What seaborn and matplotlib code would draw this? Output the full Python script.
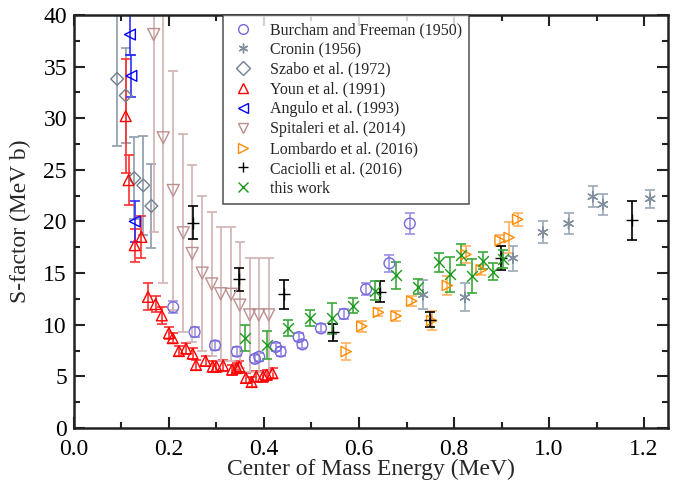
import numpy as np
import pandas as pd
import matplotlib
matplotlib.use("Agg")
import matplotlib.pyplot as plt
import seaborn as sns
from matplotlib.lines import Line2D
from matplotlib.ticker import MultipleLocator

# data (E in MeV, S in MeV b)
burcham_e = [0.209, 0.254, 0.297, 0.343, 0.381, 0.390, 0.425, 0.435, 0.473, 0.481,
             0.520, 0.568, 0.615, 0.664, 0.707]
burcham_s = [11.7, 9.3, 8.0, 7.4, 6.7, 6.9, 7.85, 7.4, 8.8, 8.1, 9.65, 11.05, 13.45, 15.95, 19.8]
burcham_err = [0.6, 0.5, 0.4, 0.4, 0.4, 0.4, 0.4, 0.4, 0.4, 0.4, 0.4, 0.5, 0.6, 0.8, 1.0]

cronin_e = [0.735, 0.823, 0.924, 0.987, 1.041, 1.092, 1.113, 1.213]
cronin_s = [12.9, 12.65, 16.45, 18.95, 19.8, 22.4, 21.65, 22.2]
cronin_err = [1.4, 1.35, 1.2, 1.05, 1.0, 1.0, 1.0, 0.85]

szabo_e = [0.091, 0.109, 0.127, 0.146, 0.163]
szabo_s = [33.8, 32.2, 24.2, 23.5, 21.5]
szabo_err = [6.5, 4.6, 4.0, 4.8, 4.1]

youn_e = [0.109, 0.115, 0.128, 0.142, 0.156, 0.172, 0.185, 0.200, 0.208, 0.221, 0.236,
          0.250, 0.257, 0.277, 0.292, 0.300, 0.314, 0.333, 0.343, 0.348, 0.362, 0.374,
          0.384, 0.398, 0.406, 0.418]
youn_s = [30.2, 24.0, 17.7, 18.5, 12.7, 12.0, 10.9, 9.2, 8.7, 7.45, 7.7, 7.2, 6.1, 6.5,
          5.95, 5.95, 6.05, 5.65, 5.8, 5.95, 4.85, 4.45, 5.0, 5.0, 5.15, 5.3]
youn_err = [5.5, 2.4, 1.6, 2.0, 1.3, 0.8, 0.8, 0.6, 0.5, 0.5, 0.5, 0.5, 0.5, 0.5, 0.5,
            0.5, 0.5, 0.5, 0.5, 0.5, 0.5, 0.5, 0.5, 0.5, 0.5, 0.5]

angulo_e = [0.118, 0.121, 0.128]
angulo_s = [38.1, 34.1, 20.0]
angulo_err = [2.0, 2.0, 2.0]

spitaleri_e = [0.168, 0.188, 0.209, 0.230, 0.249, 0.270, 0.290, 0.309, 0.331, 0.349,
               0.370, 0.389, 0.410]
spitaleri_s = [38.1, 28.1, 23.0, 18.9, 16.9, 15.0, 13.95, 13.0, 12.95, 11.9, 10.95, 10.95, 10.95]
spitaleri_err = [19.1, 14.1, 11.6, 9.6, 8.6, 7.5, 7.0, 6.5, 6.5, 6.1, 5.5, 5.5, 5.5]

lombardo_e = [0.573, 0.606, 0.641, 0.678, 0.711, 0.753, 0.786, 0.825, 0.857, 0.897, 0.916, 0.934]
lombardo_s = [7.4, 9.85, 11.2, 10.85, 12.3, 10.4, 13.8, 16.8, 15.3, 18.15, 18.45, 20.2]
lombardo_err = [0.8, 0.55, 0.4, 0.5, 0.5, 0.9, 0.9, 0.85, 0.5, 0.55, 1.5, 0.6]

caciolli_e = [0.250, 0.347, 0.443, 0.546, 0.644, 0.749, 0.898, 1.175]
caciolli_s = [19.9, 14.4, 12.95, 9.25, 13.2, 10.5, 16.45, 20.1]
caciolli_err = [1.6, 1.1, 1.4, 0.8, 1.0, 0.75, 1.15, 1.85]

thiswork_e = [0.361, 0.406, 0.451, 0.497, 0.543, 0.588, 0.634, 0.678, 0.725, 0.769,
              0.792, 0.815, 0.837, 0.860, 0.883, 0.904]
thiswork_s = [8.7, 8.05, 9.7, 10.65, 10.65, 11.85, 13.3, 14.8, 13.7, 16.05, 14.9, 16.8,
              14.7, 16.2, 15.15, 16.35]
thiswork_err = [1.25, 1.35, 0.75, 0.78, 1.5, 0.75, 0.9, 1.3, 0.7, 0.9, 1.7, 1.05, 1.65,
                0.85, 0.8, 0.85]

datasets = {
    "Burcham and Freeman (1950)": (burcham_e, burcham_s, burcham_err),
    "Cronin (1956)": (cronin_e, cronin_s, cronin_err),
    "Szabo et al. (1972)": (szabo_e, szabo_s, szabo_err),
    "Youn et al. (1991)": (youn_e, youn_s, youn_err),
    "Angulo et al. (1993)": (angulo_e, angulo_s, angulo_err),
    "Spitaleri et al. (2014)": (spitaleri_e, spitaleri_s, spitaleri_err),
    "Lombardo et al. (2016)": (lombardo_e, lombardo_s, lombardo_err),
    "Caciolli et al. (2016)": (caciolli_e, caciolli_s, caciolli_err),
    "this work": (thiswork_e, thiswork_s, thiswork_err),
}

# marker, marker colour, error bar colour, marker area
styles = {
    "Burcham and Freeman (1950)": ("o", "#7468dc", "#9a90e6", 60),
    "Cronin (1956)": ((6, 2, 0), "#7f8fa0", "#9aa8b8", 55),
    "Szabo et al. (1972)": ("D", "#708090", "#8e9cab", 42),
    "Youn et al. (1991)": ("^", "#ff0000", "#ff3030", 60),
    "Angulo et al. (1993)": ("<", "#0000ff", "#3030ff", 60),
    "Spitaleri et al. (2014)": ("v", "#bc8f8f", "#d2b2b2", 75),
    "Lombardo et al. (2016)": (">", "#ff8c00", "#ffb060", 55),
    "Caciolli et al. (2016)": ("+", "#000000", "#000000", 80),
    "this work": ("x", "#1a9a1a", "#3aaa3a", 60),
}

sns.set_theme(style="ticks")
plt.rcParams["font.family"] = ["Liberation Serif", "DejaVu Serif"]

fig, ax = plt.subplots(figsize=(6.78, 4.82), dpi=100)
fig.subplots_adjust(left=0.109, right=0.985, bottom=0.112, top=0.969)

handles = []
for name, (e, s, err) in datasets.items():
    marker, mcol, ecol, size = styles[name]
    df = pd.DataFrame({"E": e, "S": s, "err": err})
    ax.errorbar(df["E"], df["S"], yerr=df["err"], fmt="none", ecolor=ecol,
                elinewidth=1.2, capsize=3.5, capthick=1.2, zorder=2)
    sns.scatterplot(data=df, x="E", y="S", marker=marker, s=size, ax=ax,
                    color=mcol, linewidth=1.0, zorder=3, legend=False)
    pts = ax.collections[-1]
    if marker not in ("+", "x"):
        pts.set_facecolor("none")
    pts.set_edgecolor(mcol)
    pts.set_linewidth(1.0)
    handles.append(Line2D([], [], linestyle="none", marker=marker, markersize=7,
                          markerfacecolor="none", markeredgecolor=mcol,
                          markeredgewidth=1.0, label=name))

ax.set_xlim(0, 1.25)
ax.set_ylim(0, 40)
ax.xaxis.set_major_locator(MultipleLocator(0.2))
ax.xaxis.set_minor_locator(MultipleLocator(0.1))
ax.yaxis.set_major_locator(MultipleLocator(5))
ax.yaxis.set_minor_locator(MultipleLocator(2.5))
ax.xaxis.set_major_formatter(plt.FuncFormatter(lambda v, p: f"{v:.1f}"))
ax.tick_params(which="both", direction="in", top=True, right=True, colors="#222222",
               labelsize=17, width=1.5, labelcolor="black")
ax.tick_params(which="major", length=8)
ax.tick_params(which="minor", length=4)
ax.tick_params(axis="x", which="major", pad=8)
ax.tick_params(axis="y", which="major", pad=5)
for sp in ax.spines.values():
    sp.set_visible(True)
    sp.set_linewidth(1.8)
    sp.set_color("#222222")

ax.set_xlabel("Center of Mass Energy (MeV)", fontsize=17, labelpad=-1)
ax.set_ylabel("S-factor (MeV b)", fontsize=17, labelpad=9)

leg = ax.legend(handles=handles, loc="upper left", bbox_to_anchor=(0.251, 1.0),
                fontsize=11.5, frameon=True, fancybox=False, borderpad=0.45,
                labelspacing=0.24, handletextpad=0.9, handlelength=1.6,
                borderaxespad=0)
leg.get_frame().set_edgecolor("#333333")
leg.get_frame().set_linewidth(1.2)

fig.savefig("out.png", dpi=100)
